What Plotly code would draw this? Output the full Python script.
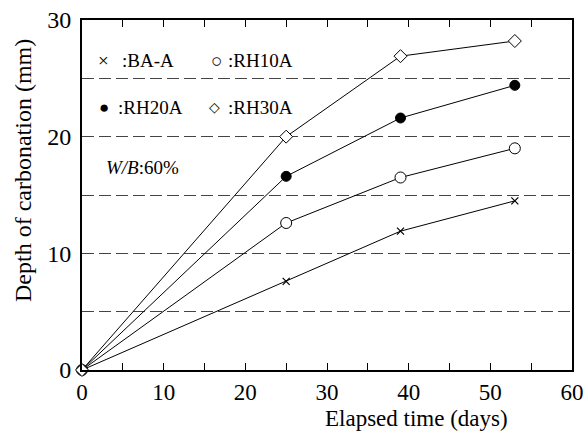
import plotly.graph_objects as go

days = [0, 25, 39, 53]
ba_a = [0, 7.6, 11.9, 14.5]
rh10a = [0, 12.6, 16.5, 19.0]
rh20a = [0, 16.6, 21.6, 24.4]
rh30a = [0, 20.0, 26.9, 28.2]

x_ticks = [0, 10, 20, 30, 40, 50, 60]
y_ticks = [0, 10, 20, 30]

FONT = "Liberation Serif, Times New Roman, serif"

fig = go.Figure()
series = [
    ("BA-A", ba_a, dict(symbol="x-thin", size=7, color="black", line=dict(width=1.2, color="black"))),
    ("RH10A", rh10a, dict(symbol="circle", size=11, color="white", line=dict(width=1, color="black"))),
    ("RH20A", rh20a, dict(symbol="circle", size=10, color="black", line=dict(width=1, color="black"))),
    ("RH30A", rh30a, dict(symbol="diamond", size=10, color="white", line=dict(width=1, color="black"))),
]
for name, vals, mk in series:
    fig.add_trace(go.Scatter(x=days, y=vals, mode="lines+markers", name=name,
                             line=dict(color="black", width=1), marker=mk,
                             cliponaxis=False, showlegend=False))

fig.update_layout(
    width=584, height=431,
    margin=dict(l=82, r=12, t=20, b=61),
    paper_bgcolor="white", plot_bgcolor="white",
    font=dict(family=FONT, color="black", size=24),
)
fig.update_xaxes(
    range=[0, 60], tickvals=x_ticks, ticks="inside", ticklen=7, tickwidth=1, tickcolor="black",
    minor=dict(dtick=5, tick0=0, ticks="inside", ticklen=7, tickwidth=1, tickcolor="black", showgrid=False),
    showline=True, linewidth=2, linecolor="black", mirror="allticks", showgrid=False, zeroline=False,
    automargin=False, tickfont=dict(family=FONT, size=23),
)
fig.update_yaxes(
    range=[0, 30], tickvals=y_ticks, ticks="", showline=True, linewidth=2, linecolor="black", mirror=True,
    showgrid=True, gridcolor="#444", griddash="12px,5px", gridwidth=1,
    minor=dict(dtick=5, tick0=0, showgrid=True, gridcolor="#444", griddash="12px,5px", gridwidth=1),
    zeroline=False, automargin=False, ticklabelstandoff=4,
    tickfont=dict(family=FONT, size=24),
)

def dx(px):
    return (px - 82) / 490

def dy(py):
    return (370 - py) / 350

# axis titles
fig.add_annotation(x=dx(416), y=dy(418), xref="x domain", yref="y domain",
                   text="Elapsed time (days)", showarrow=False, xanchor="center", yanchor="middle",
                   font=dict(family=FONT, size=23, color="black"))
fig.add_annotation(x=dx(23), y=dy(171), xref="x domain", yref="y domain",
                   text="Depth of carbonation (mm)", showarrow=False, textangle=-90,
                   xanchor="center", yanchor="middle",
                   font=dict(family=FONT, size=24, color="black"))

# legend symbols
symbols = [
    (103.5, 60, "×", 19),
    (216, 60, "○", 19),
    (104, 107, "●", 17),
    (214, 107, "◇", 14),
]
for x, y, t, s in symbols:
    fig.add_annotation(x=dx(x), y=dy(y), xref="x domain", yref="y domain", text=t, showarrow=False,
                       xanchor="center", yanchor="middle", font=dict(family=FONT, size=s, color="black"))

labels = [
    (120, 60, ":BA-A"),
    (226, 60, ":RH10A"),
    (116, 107, ":RH20A"),
    (226, 107, ":RH30A"),
    (104, 167, "<i>W/B</i>:60%"),
]
for x, y, t in labels:
    fig.add_annotation(x=dx(x), y=dy(y), xref="x domain", yref="y domain", text=t, showarrow=False,
                       xanchor="left", yanchor="middle", font=dict(family=FONT, size=19, color="black"))

fig.write_html("out.html", config={"displayModeBar": False},
               post_script="document.body.style.margin='0';document.body.style.overflow='hidden';")
